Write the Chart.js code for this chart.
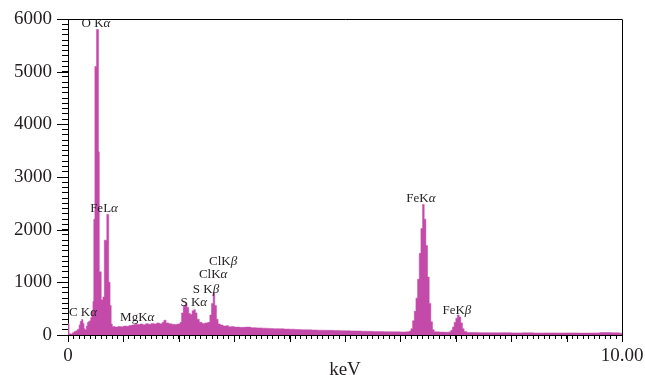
<!DOCTYPE html>
<html>
<head>
<meta charset="utf-8">
<title>EDS spectrum</title>
<script src="https://cdn.jsdelivr.net/npm/chart.js@4/dist/chart.umd.min.js"></script>
<style>
  html, body { margin: 0; padding: 0; background: #fff; }
  #chart { display: block; }
</style>
</head>
<body>
<canvas id="chart" width="645" height="375"></canvas>
<script>
// spectrum: left edge of each energy bin (keV) and its counts
const energyKeV = [
  0.00, 0.02, 0.05, 0.08, 0.11, 0.14, 0.17, 0.20, 0.22, 0.245, 0.27, 0.29, 0.31, 0.33, 0.35, 0.37, 0.39, 0.41, 0.43, 0.45,
  0.465, 0.485, 0.515, 0.55, 0.565, 0.60, 0.63, 0.655, 0.70, 0.735, 0.76, 0.78,
  0.80, 0.85, 0.90, 0.95, 1.00, 1.05, 1.10, 1.15, 1.20, 1.25, 1.30, 1.35, 1.40, 1.45, 1.50, 1.55, 1.60, 1.65, 1.70, 1.73, 1.77, 1.82, 1.87, 1.92, 1.97,
  2.02, 2.05, 2.08, 2.12, 2.15, 2.18, 2.21, 2.24, 2.27, 2.30, 2.33, 2.37, 2.42, 2.47, 2.52, 2.56, 2.59, 2.62, 2.65, 2.68, 2.71, 2.75,
  2.80, 2.85, 2.90, 2.95, 3.00, 3.10, 3.20, 3.30, 3.40, 3.50, 3.60, 3.70, 3.80, 3.90, 4.00, 4.10, 4.20, 4.30, 4.40, 4.50,
  4.60, 4.70, 4.80, 4.90, 5.00, 5.10, 5.20, 5.30, 5.40, 5.50, 5.60, 5.70, 5.80, 5.90, 6.00, 6.10,
  6.16, 6.19, 6.22, 6.25, 6.28, 6.31, 6.34, 6.37, 6.40, 6.43, 6.46, 6.49, 6.52, 6.55, 6.58, 6.61,
  6.70, 6.80, 6.88, 6.91, 6.94, 6.97, 7.00, 7.03, 7.06, 7.09, 7.12, 7.15,
  7.20, 7.40, 7.60, 7.80, 8.00, 8.20, 8.40, 8.60, 8.80, 9.00, 9.20, 9.40, 9.60, 9.80, 9.95, 10.00
];
const counts = [
  215, 25, 20, 45, 65, 80, 110, 190, 260, 295, 220, 120, 95, 170, 235, 255, 270, 330, 450, 640,
  2200, 5100, 5800, 3480, 1200, 670, 720, 1800, 2290, 1000, 560, 210,
  160, 150, 160, 155, 170, 165, 180, 190, 205, 200, 210, 195, 215, 205, 220, 210, 230, 215, 240, 280, 230, 215, 205, 200, 210,
  240, 420, 560, 600, 520, 410, 390, 460, 480, 420, 300, 240, 220, 230, 240, 380, 600, 800, 560, 300, 210, 190,
  170, 175, 155, 160, 150, 145, 150, 140, 135, 130, 125, 120, 118, 112, 110, 105, 100, 98, 95, 92,
  90, 88, 85, 82, 80, 78, 75, 72, 70, 68, 66, 64, 62, 60, 58, 60,
  75, 120, 270, 450, 700, 1060, 1550, 2020, 2480, 2200, 1700, 1100, 600, 250, 100, 60,
  55, 52, 60, 90, 150, 240, 320, 380, 340, 230, 120, 65,
  48, 45, 42, 45, 40, 42, 38, 40, 38, 40, 36, 38, 48, 42, 35, 35
];

// peak labels: element line, greek suffix, position (keV, counts)
const peakNames = ['O K', 'FeL', 'C K', 'MgK', 'S K', 'S K', 'ClK', 'ClK', 'FeK', 'FeK'];
const peakGreek = ['α', 'α', 'α', 'α', 'α', 'β', 'α', 'β', 'α', 'β'];
const peakKeV = [0.505, 0.65, 0.27, 1.25, 2.27, 2.49, 2.62, 2.80, 6.37, 7.02];
const peakCounts = [5905, 2400, 419, 324, 610, 857, 1143, 1390, 2590, 457];

const xMajor = [0, 1, 2, 3, 4, 5, 6, 7, 8, 9, 10];
const yMajor = [0, 1000, 2000, 3000, 4000, 5000, 6000];
const xTitle = 'keV';

const barColor = '#c44aa9';
const inkColor = '#231f20';
const serif = "'Liberation Serif', 'DejaVu Serif', serif";

const points = energyKeV.map((e, i) => ({ x: e, y: counts[i] }));

// top/right frame, long major ticks, axis title and the peak names
const extras = {
  id: 'extras',
  afterDraw(chart) {
    const { ctx, chartArea: a, scales: { x, y } } = chart;
    ctx.save();
    ctx.strokeStyle = '#000';
    ctx.lineWidth = 1;
    ctx.beginPath();
    ctx.moveTo(a.left, a.top + 0.5);
    ctx.lineTo(a.right + 0.5, a.top + 0.5);
    ctx.lineTo(a.right + 0.5, a.bottom);
    yMajor.forEach(v => {
      const py = Math.round(y.getPixelForValue(v)) + 0.5;
      ctx.moveTo(a.left - 11, py);
      ctx.lineTo(a.left, py);
    });
    xMajor.forEach(v => {
      const px = Math.round(x.getPixelForValue(v)) + 0.5;
      ctx.moveTo(px, a.bottom);
      ctx.lineTo(px, a.bottom + 7);
    });
    ctx.stroke();

    ctx.fillStyle = inkColor;
    ctx.textBaseline = 'middle';
    ctx.textAlign = 'center';
    ctx.font = '19px ' + serif;
    ctx.fillText(xTitle, (a.left + a.right) / 2, a.bottom + 35);

    ctx.textAlign = 'left';
    const normal = '13px ' + serif;
    const italic = 'italic 13px ' + serif;
    peakNames.forEach((name, i) => {
      ctx.font = normal;
      const w1 = ctx.measureText(name).width;
      ctx.font = italic;
      const w2 = ctx.measureText(peakGreek[i]).width;
      const cx = x.getPixelForValue(peakKeV[i]);
      const cy = y.getPixelForValue(peakCounts[i]);
      const left = cx - (w1 + w2) / 2;
      ctx.font = normal;
      ctx.fillText(name, left, cy);
      ctx.font = italic;
      ctx.fillText(peakGreek[i], left + w1, cy);
    });
    ctx.restore();
  }
};

new Chart(document.getElementById('chart'), {
  type: 'line',
  data: {
    datasets: [{
      data: points,
      stepped: true,
      fill: 'origin',
      backgroundColor: barColor,
      borderColor: barColor,
      borderWidth: 0.5,
      pointRadius: 0
    }]
  },
  options: {
    responsive: false,
    animation: false,
    devicePixelRatio: 1,
    layout: { padding: { left: 0, top: 19, right: 23, bottom: 0 } },
    plugins: { legend: { display: false }, tooltip: { enabled: false } },
    scales: {
      x: {
        type: 'linear',
        min: 0,
        max: 10,
        afterFit: scale => {
          scale.height = 40;
          scale.paddingLeft = 0;
          scale.paddingRight = 0;
        },
        border: { display: true, color: '#000', width: 1 },
        grid: { drawOnChartArea: false, tickLength: 4, color: '#000' },
        ticks: {
          stepSize: 0.1,
          autoSkip: false,
          maxRotation: 0,
          padding: 6,
          color: inkColor,
          font: { family: serif, size: 19 },
          callback: v => (Math.abs(v) < 1e-6 ? '0' : Math.abs(v - 10) < 1e-6 ? '10.00' : '')
        }
      },
      y: {
        type: 'linear',
        min: 0,
        max: 6000,
        afterFit: scale => {
          scale.width = 68;
          scale.paddingTop = 0;
          scale.paddingBottom = 0;
        },
        border: { display: true, color: '#000', width: 1 },
        grid: { drawOnChartArea: false, tickLength: 6, color: '#000' },
        ticks: {
          stepSize: 100,
          autoSkip: false,
          padding: 10,
          color: inkColor,
          font: { family: serif, size: 19 },
          callback: v => (v % 1000 === 0 ? String(v) : '')
        }
      }
    }
  },
  plugins: [extras]
});
</script>
</body>
</html>
